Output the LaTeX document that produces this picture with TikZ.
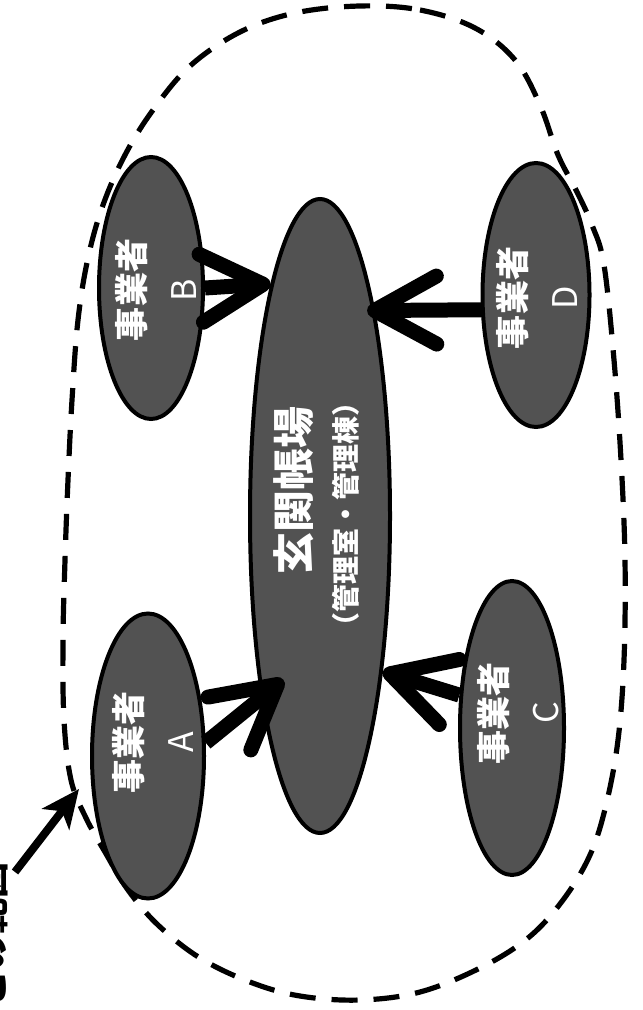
\documentclass[tikz,border=0pt]{standalone}
\usepackage{fontspec}
\setmainfont{Noto Sans CJK JP}
\usetikzlibrary{arrows.meta,shapes.geometric}
\begin{document}
\begin{tikzpicture}[x=0.5pt,y=-0.5pt,
  party/.style={ellipse, draw=black, line width=2pt, fill=black!68, inner sep=0pt},
  tag/.style={rotate=90, text=white, align=center, inner sep=0pt,
    font=\fontsize{17pt}{26pt}\selectfont\bfseries},
  flow/.style={line width=7.5pt, line cap=butt,
    -{Straight Barb[length=31pt,width=34pt,round]}},
  pointer/.style={line width=4pt, -{Stealth[length=19pt,width=17pt,inset=5pt]}},
  boundary/.style={line width=2.6pt, dash pattern=on 13pt off 8pt}]
\useasboundingbox (0,0) rectangle (642,1010);
\clip (0,0) rectangle (642,1010);

% dashed boundary of the area
\draw[boundary] plot[smooth cycle, tension=0.6] coordinates {
  (360,6) (420,10) (475,28) (515,60) (540,105) (558,155) (576,190)
  (592,225) (604,265) (614,360) (621,460) (625,560) (624,660)
  (618,740) (606,805) (590,855) (563,900) (528,938) (480,968)
  (420,992) (360,1000) (300,996) (250,982) (200,958) (158,925)
  (128,890) (105,852) (86,818) (71,780) (64,720) (63,640) (65,560)
  (68,480) (72,400) (78,320) (88,258) (103,205) (125,155) (153,110)
  (190,66) (240,32) (295,13)};

% front desk in the centre
\node[party, minimum width=70pt, minimum height=317pt] (M) at (320,516) {};
\node[rotate=90, text=white, inner sep=0pt, font=\fontsize{21pt}{24pt}\selectfont\bfseries]
  (M-title) at (294,490) {玄関帳場};
\node[rotate=90, text=white, inner sep=0pt, font=\fontsize{14pt}{18pt}\selectfont\bfseries]
  (M-sub) at (346,514) {（管理室・管理棟）};

% operators
\node[party, minimum width=56pt, minimum height=142.5pt] (A) at (148,756) {};
\node[party, minimum width=52pt, minimum height=131pt] (B) at (151,288) {};
\node[party, minimum width=52pt, minimum height=147pt] (C) at (512,728) {};
\node[party, minimum width=53.5pt, minimum height=132pt] (D) at (536,295) {};

\node[tag] (A-tag) at (153,742) {事業者\\\mdseries A};
\node[tag] (B-tag) at (156,290) {事業者\\\mdseries B};
\node[tag] (C-tag) at (518,713) {事業者\\\mdseries C};
\node[tag] (D-tag) at (537,298) {事業者\\\mdseries D};

% links to the front desk
\draw[flow, shorten >=-14.5pt] (A.13) -- (M.252.8);
\draw[flow] (B.east) -- (M.102.5);
\draw[flow] (C.148.7) -- (M.292.6);
\draw[flow, shorten >=-4pt] (D.195.8) -- (M.75.5);

% note pointing at the boundary
\node[rotate=90, anchor=base west, inner sep=0pt,
  font=\fontsize{18pt}{20pt}\selectfont\bfseries] (note) at (4,1007) {この範囲};
\coordinate (note-tail) at (15,872);
\coordinate (edge-mark) at (79,789);
\draw[pointer] (note-tail) -- (edge-mark);
\end{tikzpicture}
\end{document}
